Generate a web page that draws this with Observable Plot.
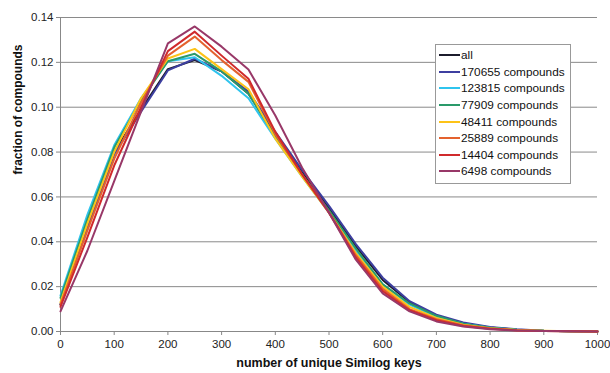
<!DOCTYPE html>
<html>
<head>
<meta charset="utf-8">
<script src="https://cdn.jsdelivr.net/npm/d3@7"></script>
<script src="https://cdn.jsdelivr.net/npm/@observablehq/plot@0.6"></script>
<style>
  html, body { margin: 0; padding: 0; background: #fff; }
  #wrap { position: relative; width: 610px; height: 373px; font-family: "Liberation Sans", Arial, sans-serif; }
  #legend { position: absolute; left: 435px; top: 44px; width: 134px; border: 1px solid #999; background: #fff; padding: 2px 0 3px 0; font-size: 11.8px; color: #111; }
  #legend .row { display: flex; align-items: center; height: 16.6px; }
  #legend .sw { width: 21px; height: 2px; margin-left: 3px; margin-right: 1px; }
</style>
</head>
<body>
<div id="wrap"><div id="chart"></div><div id="legend"></div></div>
<script>
const xs = [0,50,100,150,200,250,300,350,400,450,500,550,600,650,700,750,800,850,900,950,1000];
const seriesNames = ["all","170655 compounds","123815 compounds","77909 compounds","48411 compounds","25889 compounds","14404 compounds","6498 compounds"];
const seriesColors = ["#1c1c2c","#3d3fa0","#2fc4ee","#2a9a6a","#fdc318","#e4622e","#d02a2c","#983868"];
const sAll    = [0.012,0.047,0.080,0.099,0.117,0.121,0.116,0.106,0.088,0.071,0.055,0.038,0.023,0.013,0.007,0.0035,0.0018,0.0008,0.0003,0.0001,0.00005];
const s170655 = [0.012,0.046,0.079,0.098,0.1164,0.1216,0.116,0.107,0.089,0.072,0.056,0.039,0.024,0.0135,0.0075,0.004,0.002,0.001,0.0003,0.0001,0.00005];
const s123815 = [0.016,0.052,0.083,0.104,0.1205,0.1223,0.114,0.104,0.086,0.069,0.053,0.036,0.021,0.012,0.0065,0.0035,0.0017,0.0008,0.0003,0.0001,0.00005];
const s77909  = [0.015,0.050,0.082,0.103,0.1205,0.1238,0.116,0.106,0.087,0.070,0.054,0.037,0.021,0.0125,0.007,0.0035,0.0017,0.0008,0.0003,0.0001,0];
const s48411  = [0.013,0.048,0.080,0.104,0.1217,0.126,0.117,0.108,0.086,0.069,0.053,0.035,0.020,0.011,0.006,0.003,0.0015,0.0007,0.0003,0.0001,0];
const s25889  = [0.012,0.045,0.077,0.102,0.123,0.1315,0.121,0.1113,0.088,0.070,0.053,0.034,0.019,0.010,0.0055,0.0028,0.0013,0.0006,0.0002,0.0001,0];
const s14404  = [0.011,0.042,0.074,0.100,0.125,0.1337,0.123,0.1127,0.089,0.070,0.053,0.033,0.018,0.0095,0.005,0.0025,0.0012,0.0005,0.0002,0.0001,0];
const s6498   = [0.009,0.036,0.067,0.098,0.1285,0.136,0.127,0.1168,0.0963,0.073,0.053,0.032,0.017,0.009,0.0045,0.0022,0.001,0.0004,0.0002,0.0001,0];
const allSeries = [sAll,s170655,s123815,s77909,s48411,s25889,s14404,s6498];
const xTicks = [0,100,200,300,400,500,600,700,800,900,1000];
const yTicks = [0,0.02,0.04,0.06,0.08,0.10,0.12,0.14];
const xLabel = "number of unique Similog keys";
const yLabel = "fraction of compounds";

const data = [];
allSeries.forEach((vals, i) => vals.forEach((v, j) => data.push({series: seriesNames[i], x: xs[j], y: v})));

const chart = Plot.plot({
  width: 610,
  height: 373,
  marginLeft: 60,
  marginRight: 13,
  marginTop: 17,
  marginBottom: 42,
  style: {fontFamily: "'Liberation Sans', Arial, sans-serif", fontSize: "11.5px", color: "#222", background: "#fff"},
  x: {domain: [0, 1000]},
  y: {domain: [0, 0.14]},
  color: {domain: seriesNames, range: seriesColors},
  marks: [
    Plot.gridY(yTicks.slice(1), {stroke: "#8a8a8a", strokeOpacity: 1, strokeWidth: 1}),
    Plot.axisY({ticks: yTicks, tickFormat: d3.format(".2f"), tickSize: 4, tickPadding: 3, stroke: "#888", label: null}),
    Plot.axisX({ticks: xTicks, tickFormat: d3.format("d"), tickSize: 4, tickPadding: 4, stroke: "#888", label: null}),
    Plot.ruleX([0], {stroke: "#888"}),
    Plot.ruleY([0], {stroke: "#888"}),
    Plot.line(data, {x: "x", y: "y", z: "series", stroke: "series", strokeWidth: 2, curve: "linear"}),
    Plot.text([yLabel], {frameAnchor: "left", dx: -42, rotate: -90, fontWeight: "bold", fontSize: 12, fill: "#111"}),
    Plot.text([xLabel], {frameAnchor: "bottom", dy: 35, fontWeight: "bold", fontSize: 12.5, fill: "#111"})
  ]
});
document.getElementById("chart").appendChild(chart);

const legend = document.getElementById("legend");
seriesNames.forEach((name, i) => {
  const row = document.createElement("div");
  row.className = "row";
  const sw = document.createElement("div");
  sw.className = "sw";
  sw.style.background = seriesColors[i];
  const t = document.createElement("span");
  t.textContent = name;
  row.appendChild(sw);
  row.appendChild(t);
  legend.appendChild(row);
});
</script>
</body>
</html>
